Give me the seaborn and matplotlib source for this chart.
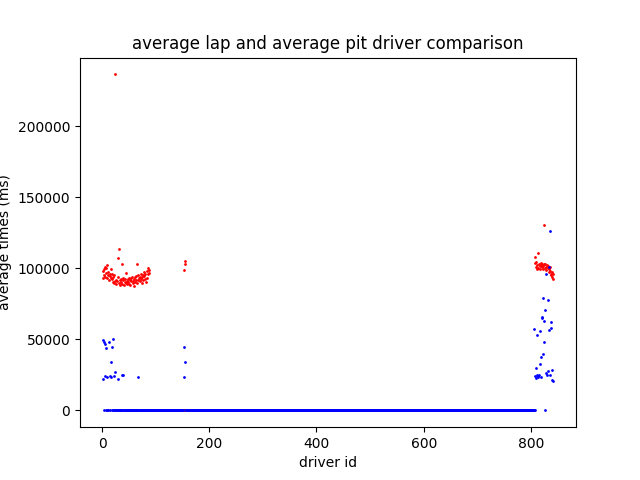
import numpy as np
import pandas as pd
import matplotlib
matplotlib.use("Agg")
import matplotlib.pyplot as plt
import seaborn as sns

# -------------------------
# average lap time per driver (thousands of ms)
lap_ids = [1, 2, 3, 4, 5, 6, 7, 8, 9, 10, 11, 12, 13, 14, 15, 16, 17, 18, 19, 20,
           21, 22, 23, 24, 25, 26, 27, 28, 29, 30, 31, 32, 33, 34, 35, 36, 37, 38, 39, 40,
           41, 42, 43, 44, 45, 46, 47, 48, 49, 50, 51, 52, 53, 54, 55, 56, 57, 58, 59, 60,
           61, 62, 63, 64, 65, 66, 67, 68, 69, 70, 71, 72, 73, 74, 75, 76, 77, 78, 79, 80,
           81, 82, 83, 84, 85, 86, 87, 88,
           153, 154, 155,
           807, 808, 809, 810, 811, 812, 813, 814, 815, 816, 817, 818, 819, 820, 821, 822,
           823, 824, 825, 826, 827, 828, 829, 830, 831, 832, 833, 834, 835, 836, 837, 838,
           839, 840, 841, 842]
lap_k = [97.8, 93.0, 99.6, 95.4, 101.2, 94.1, 96.6, 100.4, 93.3, 102.0, 95.0, 97.3, 91.8, 94.6, 96.2, 99.8, 93.5, 95.7, 92.4, 90.6,
         93.9, 89.8, 95.1, 91.3, 236.4, 92.0, 88.7, 90.9, 93.6, 106.9, 89.4, 113.9, 91.7, 87.9, 90.2, 92.8, 102.9, 89.0, 91.4, 93.0,
         88.2, 90.5, 92.2, 89.6, 96.9, 91.1, 88.9, 92.6, 90.0, 93.4, 89.2, 91.8, 88.4, 92.9, 90.7, 94.0, 89.7, 91.3, 92.5, 87.6,
         93.6, 90.4, 92.0, 94.4, 89.9, 103.2, 91.9, 95.0, 93.1, 90.8, 94.2, 92.6, 96.0, 89.5, 93.8, 95.3, 91.6, 97.4, 94.7, 92.2,
         96.3, 90.3, 98.2, 93.5, 95.8, 100.0, 99.1, 97.0,
         99.0, 103.3, 105.0,
         103.5, 108.2, 101.0, 104.4, 99.8, 102.6, 100.5, 110.9, 103.0, 101.4, 99.6, 102.2, 104.0, 100.8, 103.3, 101.9,
         99.4, 102.8, 130.1, 100.2, 103.0, 101.1, 98.8, 102.4, 100.0, 101.6, 99.2, 97.6, 100.9, 98.4, 96.3, 95.0,
         97.2, 93.6, 95.8, 92.1]

# average pit time per driver (thousands of ms), non-zero ones
pit_ids = [1, 2, 3, 5, 6, 8, 10, 13, 15, 16, 17, 19, 20, 22, 25, 30, 37, 40, 67,
           152, 153, 155,
           806, 808, 809, 810, 811, 812, 813, 814, 815, 816, 817, 818, 819, 820, 821, 822,
           823, 824, 825, 827, 828, 829, 830, 831, 832, 833, 834, 835, 836, 837, 838, 839,
           840, 841]
pit_k = [49.8, 22.3, 48.0, 46.7, 24.4, 44.0, 23.2, 48.4, 24.4, 34.3, 23.2, 44.8, 50.5, 24.4, 27.2, 22.3, 25.1, 25.1, 23.7,
         23.7, 44.8, 34.3,
         57.5, 24.0, 23.1, 30.0, 24.8, 53.3, 23.6, 24.3, 25.0, 32.9, 56.1, 37.8, 23.8, 66.0, 64.8, 39.9,
         79.4, 63.2, 48.4, 70.9, 26.5, 96.3, 25.1, 78.0, 28.0, 56.8, 101.0, 25.1, 126.5, 62.5, 58.2, 28.7,
         21.6, 20.8]

# drivers with no lap data / no pit data show up at 0
lap_zero_ids = [i for i in range(1, 807) if i not in lap_ids]
pit_zero_ids = [i for i in range(1, 809) if i not in pit_ids] + [826]

laps = pd.DataFrame({"driver": lap_ids + lap_zero_ids,
                     "avg_lap": [v * 1000 for v in lap_k] + [0] * len(lap_zero_ids)})
pits = pd.DataFrame({"driver": pit_ids + pit_zero_ids,
                     "avg_pit": [v * 1000 for v in pit_k] + [0] * len(pit_zero_ids)})

# -------------------------
plt.figure(figsize=(6.4, 4.8), dpi=100)
sns.scatterplot(x="driver", y="avg_lap", data=laps, color="red", s=4, linewidth=0)
sns.scatterplot(x="driver", y="avg_pit", data=pits, color="blue", s=4, linewidth=0)
plt.title("average lap and average pit driver comparison")
plt.xlabel("driver id")
plt.ylabel("average times (ms)")
plt.savefig("out.png", dpi=100)
